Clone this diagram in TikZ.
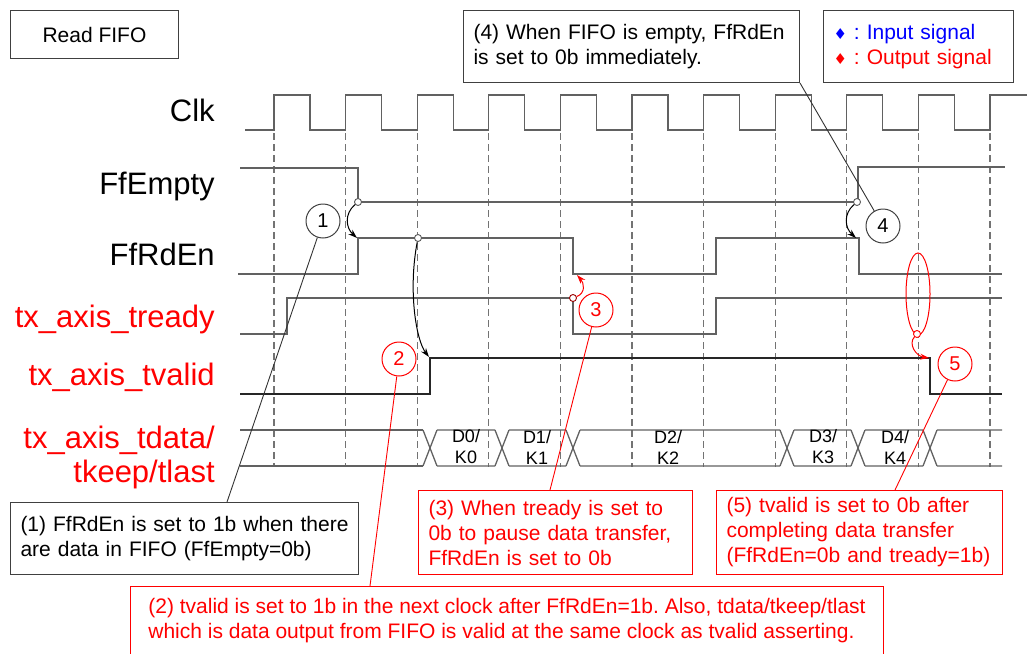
\documentclass[tikz,border=0pt]{standalone}
\usepackage{fontspec}
\setmainfont{Liberation Sans}
\newfontfamily\symfont{DejaVu Sans}
\usetikzlibrary{arrows.meta, positioning}
\frenchspacing

\begin{document}
\begin{tikzpicture}[x=1pt, y=-1pt, >={Stealth[length=9pt, width=6pt]}, semithick]
		\tikzstyle{wave}=[line width=1.3pt, black!62]
		\tikzstyle{grid}=[line width=1.3pt, black!55, dash pattern=on 7pt off 4pt]
		\tikzstyle{signame}=[anchor=base east, inner sep=0pt, font=\fontsize{31}{31}\selectfont]
		\tikzstyle{note}=[draw=black!75, line width=1pt, anchor=north west, align=left, inner xsep=10pt, inner ysep=0pt, font=\fontsize{21}{25}\selectfont]
		\tikzstyle{marker}=[circle, draw, line width=1pt, minimum size=34pt, inner sep=0pt, font=\fontsize{20}{20}\selectfont]
		\tikzstyle{dot}=[circle, draw=black!65, line width=0.9pt, fill=white, minimum size=7pt, inner sep=0pt]
		\tikzstyle{arr}=[->, line width=1pt]
		\tikzstyle{lead}=[line width=0.9pt]
		\tikzstyle{busname}=[align=center, inner sep=0pt, font=\fontsize{18}{21}\selectfont]

		\useasboundingbox (0,0) rectangle (1027,653);

		\foreach \k in {0,...,10}
			\draw[grid] ({274+71.6*\k},133) -- ++(0,334);

		\node[signame] (clk) at (215,121) {Clk};
		\node[signame] (empty) at (215,194) {FfEmpty};
		\node[signame] (rden) at (215,265) {FfRdEn};
		\node[signame, red] (tready) at (215,327) {tx\_axis\_tready};
		\node[signame, red] (tvalid) at (215,385) {tx\_axis\_tvalid};
		\node[signame, red] (tdata) at (215,448) {tx\_axis\_tdata/};
		\node[signame, red] (tkeep) at (215,482) {tkeep/tlast};

		\draw[wave] (245,130) \foreach \k in {0,...,9} { -- ({274+71.6*\k},130) -- ++(0,-35) -- ++(36,0) -- ++(0,35) } -- (990,130) -- (990,95) -- (1027,95);
		\draw[wave] (240,168) -- (358,168) -- (358,202) -- (858,202) -- (858,167) -- (1005,167);
		\draw[wave] (238,274) -- (358,274) -- (358,238) -- (573,238) -- (573,274) -- (716,274) -- (716,238) -- (859,238) -- (859,274) -- (1002,274);
		\draw[wave] (240,334) -- (287,334) -- (287,298) -- (573,298) -- (573,334) -- (716,334) -- (716,298) -- (1002,298);
		\draw[wave, black!85] (240,394) -- (430,394) -- (430,358) -- (930,358) -- (930,394) -- (1002,394);

		\draw[wave] (240,430) -- (423,430) (240,466) -- (423,466);
		\foreach \a/\b in {430/502, 502/573, 573/787, 787/858, 858/930, 930/1009}
			\draw[wave] (\a-7,430) -- (\a+7,466) (\a-7,466) -- (\a+7,430) (\a+7,430) -- (\b-7,430) (\a+7,466) -- (\b-7,466);

		\node[busname] (k0) at (466,447) {D0/\\K0};
		\node[busname] (k1) at (537,447) {D1/\\K1};
		\node[busname] (k2) at (668,447) {D2/\\K2};
		\node[busname] (k3) at (823,447) {D3/\\K3};
		\node[busname] (k4) at (895,447) {D4/\\K4};

		\node[note, minimum width=168pt, minimum height=48pt, align=center] (title) at (10,10) {Read FIFO};
		\node[note, text width=316pt, minimum height=72pt] (n4) at (463,10) {(4) When FIFO is empty, FfRdEn\\is set to 0b immediately.};
		\node[note, text width=170pt, minimum height=72pt] (legend) at (823,10) {\textcolor{blue}{{\symfont\fontsize{15}{15}\selectfont ♦} : Input signal}\\\textcolor{red}{{\symfont\fontsize{15}{15}\selectfont ♦} : Output signal}};
		\node[note, text width=328pt, minimum height=72pt] (n1) at (10,502) {(1) FfRdEn is set to 1b when there\\are data in FIFO (FfEmpty=0b)};
		\node[note, draw=red, red, inner xsep=0pt, minimum width=753pt, minimum height=68pt] (n2) at (130,586) {(2) tvalid is set to 1b in the next clock after FfRdEn=1b. Also, tdata/tkeep/tlast\\which is data output from FIFO is valid at the same clock as tvalid asserting.};
		\node[note, draw=red, red, text width=254pt, minimum height=84pt] (n3) at (418,490) {(3) When tready is set to\\0b to pause data transfer,\\FfRdEn is set to 0b};
		\node[note, draw=red, red, text width=266pt, minimum height=84pt] (n5) at (716,490) {(5) tvalid is set to 0b after\\completing data transfer\\(FfRdEn=0b and tready=1b)};

		\node[marker, draw=black!75] (m1) at (323,221) {1};
		\node[marker, red] (m2) at (399,359) {2};
		\node[marker, red] (m3) at (596,310) {3};
		\node[marker, draw=black!75] (m4) at (883,226) {4};
		\node[marker, red] (m5) at (955,364) {5};

		\coordinate (t1) at (227,502);
		\coordinate (t2) at (370,586);
		\coordinate (t3) at (550,490);
		\coordinate (t5) at (895,490);
		\draw[lead, black!80] (m1) -- (t1);
		\draw[lead, red] (m2) -- (t2);
		\draw[lead, red] (m3) -- (t3);
		\draw[lead, black!80] (n4.south east) -- (m4);
		\draw[lead, red] (m5) -- (t5);

		\draw[red, line width=1pt] (918,294) ellipse [x radius=12, y radius=41];

		\node[dot] (d1) at (358,202) {};
		\node[dot] (d2) at (418,238) {};
		\node[dot, draw=red!60!black] (d3) at (573,298) {};
		\node[dot] (d4) at (857,202) {};
		\node[dot, draw=red] (d5) at (917,334) {};
		\coordinate (a1) at (357,238);
		\coordinate (a2) at (429,357);
		\coordinate (a3) at (577,275);
		\coordinate (a4) at (856,238);
		\coordinate (a5) at (929,358);

		\draw[arr] (d1) .. controls (344,214) and (346,228) .. (a1);
		\draw[arr] (d2) .. controls (408,290) and (416,340) .. (a2);
		\draw[arr, red] (d3) .. controls (586,293) and (584,283) .. (a3);
		\draw[arr] (d4) .. controls (843,214) and (845,228) .. (a4);
		\draw[arr, red] (d5) .. controls (908,344) and (916,356) .. (a5);
	\end{tikzpicture}
\end{document}
